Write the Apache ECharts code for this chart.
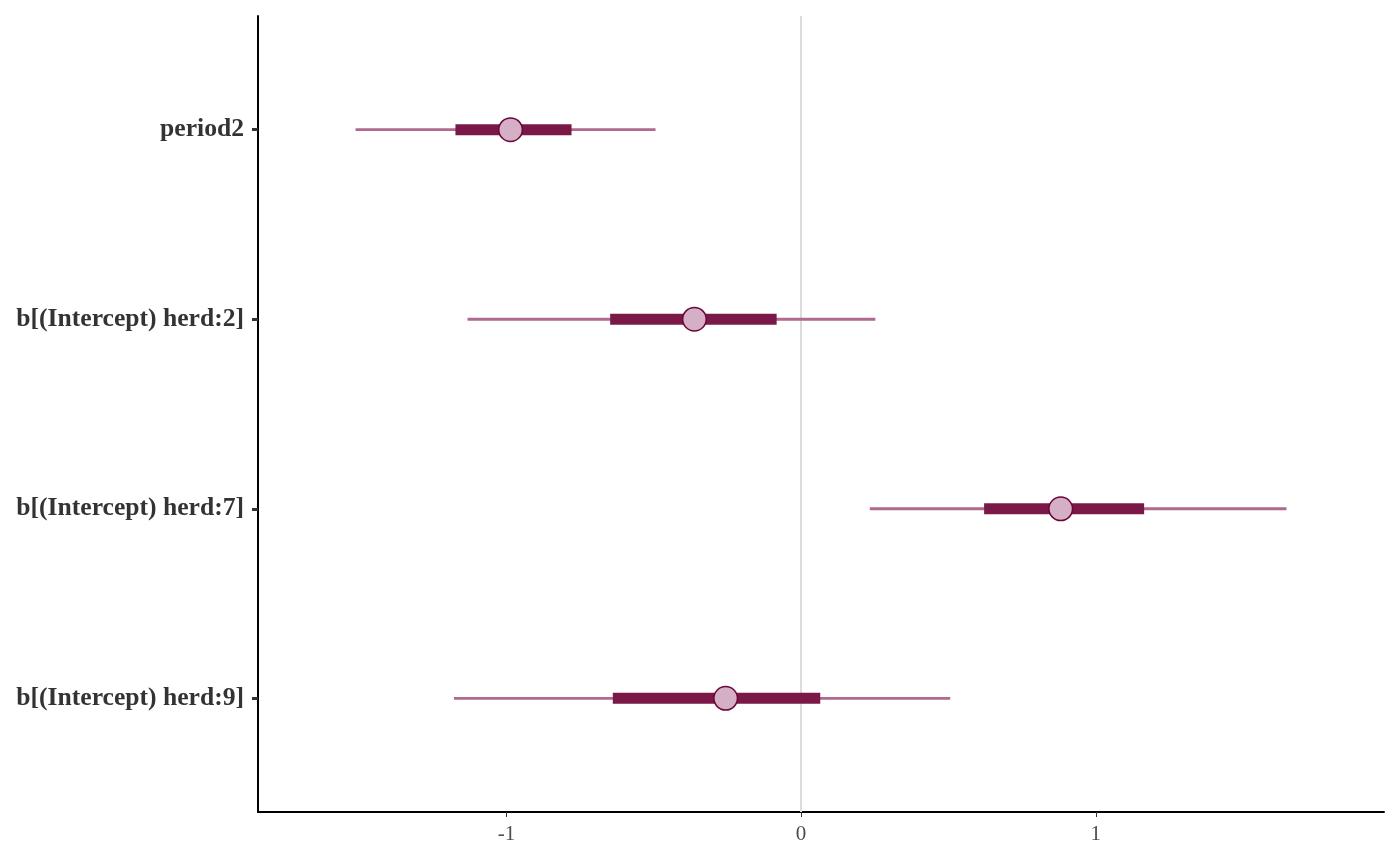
<!DOCTYPE html>
<html>
<head>
<meta charset="utf-8">
<script src="https://cdn.jsdelivr.net/npm/echarts@6/dist/echarts.min.js"></script>
<style>
html,body{margin:0;padding:0;background:#fff;}
#chart{width:1400px;height:866px;}
</style>
</head>
<body>
<div id="chart"></div>
<script>
// Parameters (top to bottom)
const params = ['period2', 'b[(Intercept) herd:2]', 'b[(Intercept) herd:7]', 'b[(Intercept) herd:9]'];
// Outer interval (lower / upper)
const outerLo = [-1.512, -1.132, 0.233, -1.178];
const outerHi = [-0.494, 0.252, 1.647, 0.506];
// Inner interval (lower / upper)
const innerLo = [-1.173, -0.648, 0.621, -0.639];
const innerHi = [-0.779, -0.083, 1.164, 0.065];
// Point estimates
const medians = [-0.986, -0.362, 0.881, -0.256];
// X tick labels
const xTicks = [-1, 0, 1];

const rowPos = params.map((p, i) => i + 1);
const data = params.map((p, i) => [outerLo[i], innerLo[i], medians[i], innerHi[i], outerHi[i], rowPos[i]]);

const chart = echarts.init(document.getElementById('chart'));
const serif = '"Liberation Serif", "DejaVu Serif", serif';

chart.setOption({
  animation: false,
  backgroundColor: '#ffffff',
  grid: { left: 258, right: 16, top: 16, bottom: 54 },
  xAxis: {
    type: 'value',
    min: -1.843,
    max: 1.978,
    splitLine: { show: false },
    axisLine: { show: true, onZero: false, lineStyle: { color: '#000', width: 2 } },
    axisTick: { show: true, length: 5, lineStyle: { color: '#333', width: 1 }, customValues: xTicks },
    axisLabel: { color: '#4d4d4d', fontFamily: serif, fontSize: 21, margin: 12, customValues: xTicks }
  },
  yAxis: {
    type: 'value',
    inverse: true,
    min: 0.4,
    max: 4.6,
    splitLine: { show: false },
    axisLine: { show: true, onZero: false, lineStyle: { color: '#000', width: 2 } },
    axisTick: { show: true, length: 6, lineStyle: { color: '#333', width: 3 }, customValues: rowPos },
    axisLabel: {
      color: '#333', fontFamily: serif, fontSize: 25.6, fontWeight: 'bold', margin: 14,
      customValues: rowPos,
      formatter: function (v) { return params[Math.round(v) - 1] || ''; }
    }
  },
  series: [
    {
      type: 'line',
      data: [],
      silent: true,
      z: 1,
      markLine: {
        silent: true,
        z: 1,
        symbol: 'none',
        label: { show: false },
        lineStyle: { color: '#dcdcdc', width: 2, type: 'solid' },
        data: [{ xAxis: 0 }]
      }
    },
    {
      type: 'custom',
      silent: true,
      z: 5,
      data: data,
      encode: { x: [0, 4], y: 5 },
      renderItem: function (params, api) {
        const y = api.value(5);
        const oL = api.coord([api.value(0), y]);
        const iL = api.coord([api.value(1), y]);
        const m = api.coord([api.value(2), y]);
        const iH = api.coord([api.value(3), y]);
        const oH = api.coord([api.value(4), y]);
        return {
          type: 'group',
          children: [
            { type: 'line', shape: { x1: oL[0], y1: oL[1], x2: oH[0], y2: oH[1] },
              style: { stroke: '#b0698f', lineWidth: 2.8 } },
            { type: 'line', shape: { x1: iL[0], y1: iL[1], x2: iH[0], y2: iH[1] },
              style: { stroke: '#7a1848', lineWidth: 11 } },
            { type: 'circle', shape: { cx: m[0], cy: m[1], r: 11.8 },
              style: { fill: '#d4afc5', stroke: '#6b0537', lineWidth: 1.5 } }
          ]
        };
      }
    }
  ]
});
</script>
</body>
</html>
